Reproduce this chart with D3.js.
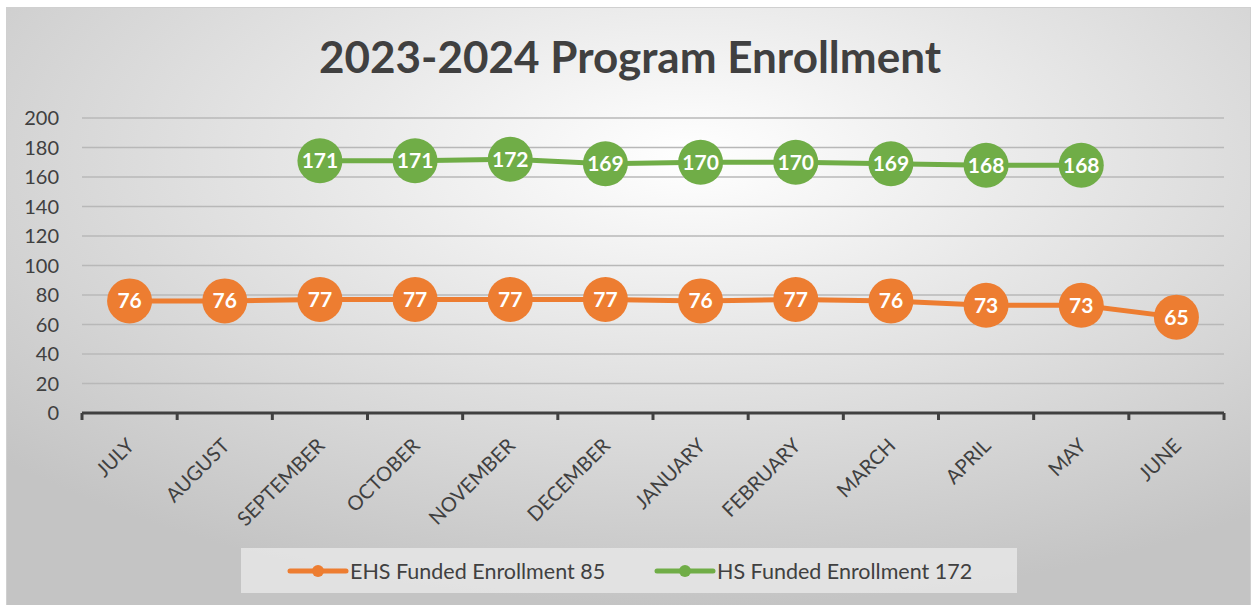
<!DOCTYPE html>
<html>
<head>
<meta charset="utf-8">
<script src="https://cdn.jsdelivr.net/npm/d3@7"></script>
<style>
  html, body { margin: 0; padding: 0; background: #fff; }
  svg { display: block; }
</style>
</head>
<body>
<script>
// 数据
const months = ["JULY", "AUGUST", "SEPTEMBER", "OCTOBER", "NOVEMBER", "DECEMBER",
  "JANUARY", "FEBRUARY", "MARCH", "APRIL", "MAY", "JUNE"];
const ehsValues = [76, 76, 77, 77, 77, 77, 76, 77, 76, 73, 73, 65];
const hsValues = [null, null, 171, 171, 172, 169, 170, 170, 169, 168, 168, null];
const yTicks = [0, 20, 40, 60, 80, 100, 120, 140, 160, 180, 200];
const seriesNames = ["EHS Funded Enrollment 85", "HS Funded Enrollment 172"];
const seriesColors = ["#ED7D31", "#70AD47"];

const width = 1251, height = 605;
const font = "Lato, 'Open Sans', sans-serif";

const svg = d3.select("body").append("svg")
  .attr("width", width)
  .attr("height", height);

// 背景渐变
const defs = svg.append("defs");
const grad = defs.append("radialGradient")
  .attr("id", "bg")
  .attr("cx", "55%").attr("cy", "25%").attr("r", "75%");
grad.append("stop").attr("offset", "0%").attr("stop-color", "#ffffff");
grad.append("stop").attr("offset", "100%").attr("stop-color", "#c4c4c4");

svg.append("rect")
  .attr("x", 6.5).attr("y", 7.5)
  .attr("width", width - 7).attr("height", height - 7)
  .attr("fill", "url(#bg)")
  .attr("stroke", "#d0d0d0");

// 标题
svg.append("text")
  .attr("x", 630).attr("y", 73)
  .attr("text-anchor", "middle")
  .attr("font-family", font)
  .attr("font-weight", "bold")
  .attr("font-size", 44)
  .attr("fill", "#404040")
  .text("2023-2024 Program Enrollment");

// 比例尺
const x = d3.scaleBand().domain(months).range([82, 1224]);
const y = d3.scaleLinear().domain([0, 200]).range([413, 118]);

// 网格线
svg.append("g")
  .selectAll("line")
  .data(yTicks.filter(d => d > 0))
  .join("line")
  .attr("x1", 82).attr("x2", 1224)
  .attr("y1", d => y(d)).attr("y2", d => y(d))
  .attr("stroke", "#b8b8b8")
  .attr("stroke-width", 1.5);

// y 轴刻度标签
svg.append("g")
  .selectAll("text")
  .data(yTicks)
  .join("text")
  .attr("x", 59)
  .attr("y", d => y(d))
  .attr("dy", "0.35em")
  .attr("text-anchor", "end")
  .attr("font-family", font)
  .attr("font-size", 20)
  .attr("fill", "#404040")
  .text(d => d);

// x 轴
const xAxis = svg.append("g")
  .attr("transform", `translate(0,${y(0)})`)
  .call(d3.axisBottom(x).tickSize(0).tickFormat(""));
xAxis.select(".domain").remove();
xAxis.append("line")
  .attr("x1", 82).attr("x2", 1224)
  .attr("stroke", "#404040").attr("stroke-width", 3);
xAxis.append("g")
  .selectAll("line")
  .data(d3.range(months.length + 1))
  .join("line")
  .attr("x1", i => 82 + i * x.step()).attr("x2", i => 82 + i * x.step())
  .attr("y1", 0).attr("y2", 7)
  .attr("stroke", "#404040").attr("stroke-width", 3);

svg.append("g")
  .selectAll("text")
  .data(months)
  .join("text")
  .attr("transform", d => `translate(${x(d) + x.bandwidth() / 2 + 6},${y(0) + 34}) rotate(-45)`)
  .attr("text-anchor", "end")
  .attr("font-family", font)
  .attr("font-size", 20)
  .attr("fill", "#404040")
  .text(d => d);

// 折线和数据标签
const series = [ehsValues, hsValues];
series.forEach((vals, si) => {
  const pts = months.map((m, i) => ({ m, v: vals[i] })).filter(d => d.v != null);
  const line = d3.line()
    .x(d => x(d.m) + x.bandwidth() / 2)
    .y(d => y(d.v));
  const g = svg.append("g");
  g.append("path")
    .datum(pts)
    .attr("d", line)
    .attr("fill", "none")
    .attr("stroke", seriesColors[si])
    .attr("stroke-width", 5)
    .attr("stroke-linejoin", "round");
  g.selectAll("circle")
    .data(pts)
    .join("circle")
    .attr("cx", d => x(d.m) + x.bandwidth() / 2)
    .attr("cy", d => y(d.v))
    .attr("r", 22.5)
    .attr("fill", seriesColors[si]);
  g.selectAll("text")
    .data(pts)
    .join("text")
    .attr("x", d => x(d.m) + x.bandwidth() / 2)
    .attr("y", d => y(d.v))
    .attr("dy", "0.36em")
    .attr("text-anchor", "middle")
    .attr("font-family", font)
    .attr("font-weight", "bold")
    .attr("font-size", 21)
    .attr("fill", "#ffffff")
    .text(d => d.v);
});

// 图例
const legend = svg.append("g");
legend.append("rect")
  .attr("x", 241).attr("y", 548)
  .attr("width", 776).attr("height", 45)
  .attr("fill", "#e6e6e6")
  .attr("opacity", 0.85);
const legendX = [290, 657];
seriesNames.forEach((name, i) => {
  const lg = legend.append("g").attr("transform", `translate(${legendX[i]},571)`);
  lg.append("line")
    .attr("x1", 0).attr("x2", 56)
    .attr("stroke", seriesColors[i]).attr("stroke-width", 5)
    .attr("stroke-linecap", "round");
  lg.append("circle").attr("cx", 28).attr("r", 6).attr("fill", seriesColors[i]);
  lg.append("text")
    .attr("x", 60).attr("dy", "0.35em")
    .attr("font-family", font)
    .attr("font-size", 21.5)
    .attr("fill", "#404040")
    .text(name);
});
</script>
</body>
</html>
